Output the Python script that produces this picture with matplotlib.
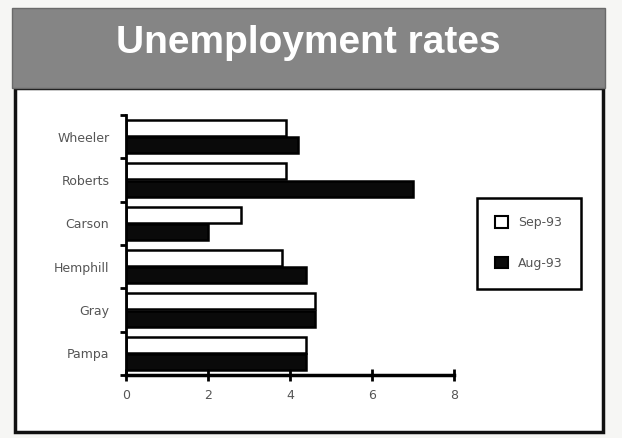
import matplotlib.pyplot as plt
import numpy as np
from matplotlib.patches import Rectangle, Patch

# data (percent)
counties = ['Wheeler', 'Roberts', 'Carson', 'Hemphill', 'Gray', 'Pampa']
sep93 = [3.9, 3.9, 2.8, 3.8, 4.6, 4.4]
aug93 = [4.2, 7.0, 2.0, 4.4, 4.6, 4.4]
xticks = [0, 2, 4, 6, 8]

W, H = 622, 438
fig = plt.figure(figsize=(W / 100, H / 100), dpi=100)
fig.patch.set_facecolor('#f6f6f4')

# header band and white panel
fig.patches.append(Rectangle((15 / W, 1 - 432 / H), 588 / W, 344 / H, transform=fig.transFigure,
                             facecolor='white', edgecolor='#111111', linewidth=2.5, zorder=-2))
fig.patches.append(Rectangle((12 / W, 1 - 88 / H), 593 / W, 80 / H, transform=fig.transFigure,
                             facecolor='#858585', edgecolor='#6a6a6a', linewidth=1, zorder=-1))
fig.text(308 / W, 1 - 43 / H, 'Unemployment rates', ha='center', va='center', color='white',
         fontsize=28, fontweight='bold', family='Liberation Sans')

ax = fig.add_axes([126 / W, 1 - 375 / H, 328 / W, 260 / H])
ax.set_facecolor('none')

n = len(counties)
ypos = np.arange(n)[::-1]  # Wheeler on top
h = 0.37
ax.barh(ypos + 0.2, sep93, height=h, color='white', edgecolor='black', linewidth=1.8, label='Sep-93')
ax.barh(ypos - 0.2, aug93, height=h, color='#0a0a0a', edgecolor='black', linewidth=1.8, label='Aug-93')

ax.set_xlim(0, 8)
ax.set_ylim(-0.5, n - 0.5)
ax.set_xticks(xticks)
ax.set_yticks(ypos)
ax.set_yticklabels(counties)
ax.set_yticks(np.arange(n + 1) - 0.5, minor=True)

for s in ['top', 'right']:
    ax.spines[s].set_visible(False)
ax.spines['left'].set_linewidth(2)
ax.spines['bottom'].set_linewidth(2.5)

ax.tick_params(axis='x', direction='inout', length=8, width=2, pad=6, labelsize=9, labelcolor='#555555')
ax.tick_params(axis='y', which='major', length=0, pad=12, labelsize=9, labelcolor='#555555')
ax.tick_params(axis='y', which='minor', direction='out', length=4, width=2)

handles = [Patch(facecolor='white', edgecolor='black', linewidth=1.5, label='Sep-93'),
           Patch(facecolor='#0a0a0a', edgecolor='black', linewidth=1.5, label='Aug-93')]
leg = fig.legend(handles=handles, loc='center', bbox_to_anchor=(529 / W, 1 - 243 / H),
                 fontsize=9, handlelength=1.0, handleheight=1.0, labelspacing=2.2,
                 borderpad=1.5, handletextpad=0.8, fancybox=False, framealpha=1, edgecolor='black')
leg.get_frame().set_linewidth(1.8)
for t in leg.get_texts():
    t.set_color('#555555')

fig.savefig('out.png', dpi=100, facecolor=fig.get_facecolor())
